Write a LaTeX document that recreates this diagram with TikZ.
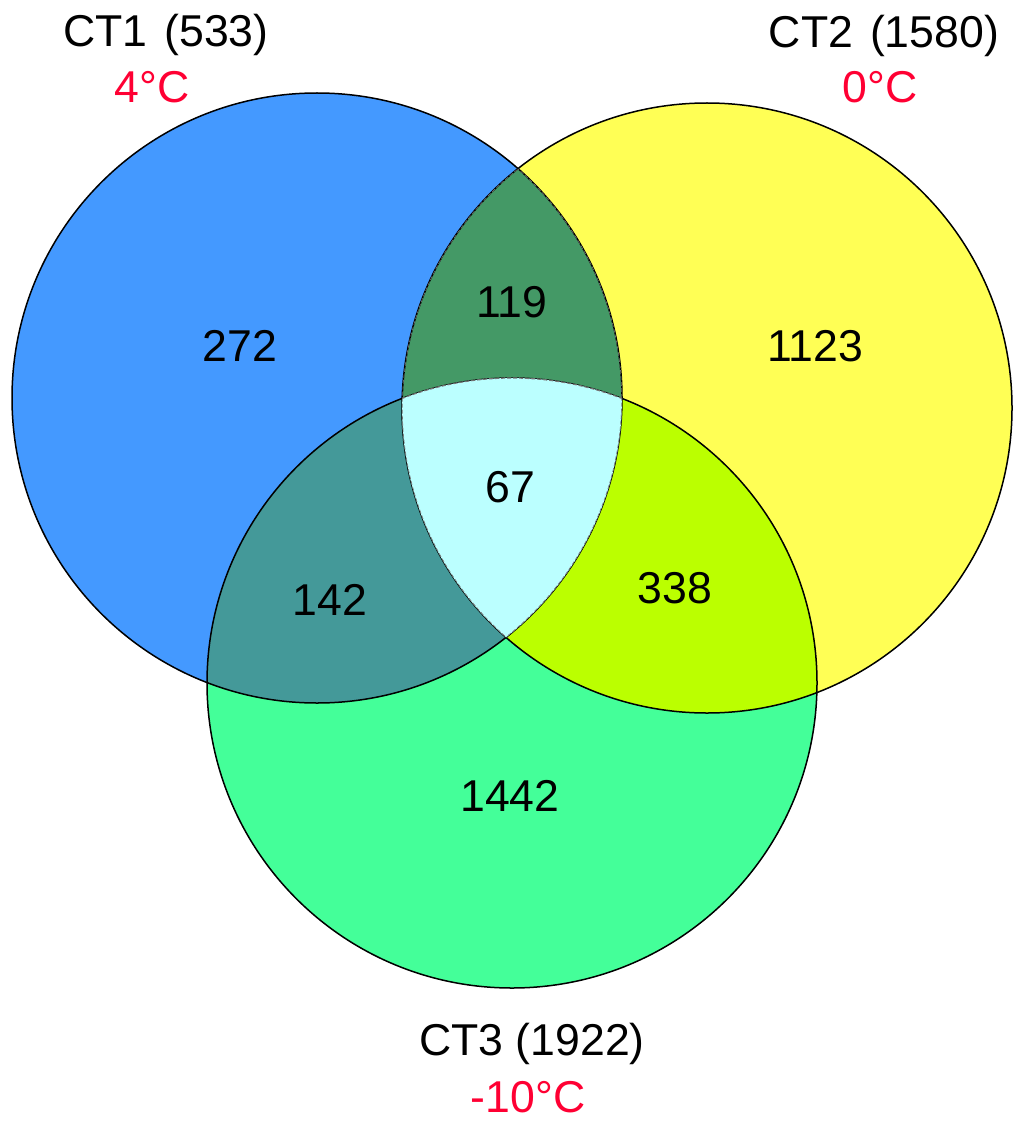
\documentclass[tikz,border=0pt]{standalone}
\usepackage{fontspec}
\setmainfont{Liberation Sans}
\definecolor{cblue}{RGB}{68,153,255}
\definecolor{cyel}{RGB}{255,255,85}
\definecolor{cgreen}{RGB}{68,255,153}
\definecolor{cot}{RGB}{68,153,102}
\definecolor{cott}{RGB}{68,153,153}
\definecolor{ctt}{RGB}{187,255,0}
\definecolor{call}{RGB}{187,255,255}
\definecolor{cred}{RGB}{255,0,51}
\begin{document}
\begin{tikzpicture}[x=0.5pt,y=-0.5pt,
  lbl/.style={anchor=base,inner sep=0pt,font=\fontsize{22.3}{26}\selectfont},
  temp/.style={lbl,text=cred},
  outline/.style={draw=black,line width=0.75pt},
  inner/.style={draw=black!55,line width=0.6pt,dash pattern=on 2pt off 1pt}]
\useasboundingbox (0,0) rectangle (1024,1123);
\coordinate (c1) at (317,398);
\coordinate (c2) at (707,408);
\coordinate (c3) at (512,683);
\def\R{152.5pt}
% base fills
\fill[cblue] (c1) circle[radius=\R];
\fill[cyel] (c2) circle[radius=\R];
\fill[cgreen] (c3) circle[radius=\R];
% pairwise
\begin{scope}\clip (c1) circle[radius=\R]; \fill[cot] (c2) circle[radius=\R];\end{scope}
\begin{scope}\clip (c1) circle[radius=\R]; \fill[cott] (c3) circle[radius=\R];\end{scope}
\begin{scope}\clip (c2) circle[radius=\R]; \fill[ctt] (c3) circle[radius=\R];\end{scope}
% outlines
\draw[outline] (c1) circle[radius=\R];
\draw[outline] (c2) circle[radius=\R];
\draw[outline] (c3) circle[radius=\R];
% centre
\begin{scope}\clip (c1) circle[radius=\R]; \clip (c2) circle[radius=\R];
  \fill[call] (c3) circle[radius=\R];
  \draw[inner] (c3) circle[radius=\R];
  \draw[inner] (c1) circle[radius=\R];
  \draw[inner] (c2) circle[radius=\R];
\end{scope}
% labels
\node[lbl] (l1) at (166,47) {CT1\hspace{0.1em} (533)};
\node[temp] (t1) at (152,103) {4°C};
\node[lbl] (l2) at (884,48) {CT2\hspace{0.1em} (1580)};
\node[temp] (t2) at (880,103) {0°C};
\node[lbl] (l3) at (532,1055) {CT3 (1922)};
\node[temp] (t3) at (528,1112) {-10°C};
% counts
\node[lbl] (n1) at (240,361) {272};
\node[lbl] (n12) at (512,317) {119};
\node[lbl] (n2) at (815,361) {1123};
\node[lbl] (n123) at (510,502) {67};
\node[lbl] (n13) at (330,615) {142};
\node[lbl] (n23) at (675,603) {338};
\node[lbl] (n3) at (510,811) {1442};
\end{tikzpicture}
\end{document}
